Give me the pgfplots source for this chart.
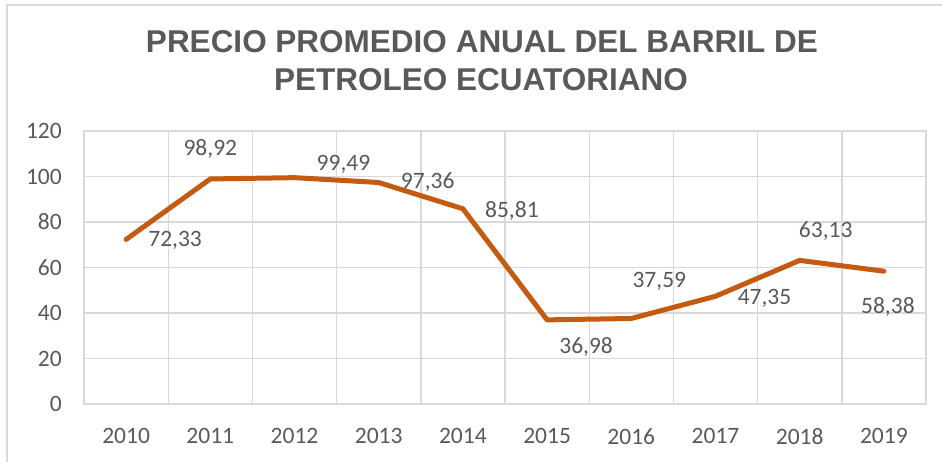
\documentclass[border=0pt]{standalone}
\usepackage{pgfplots}
\pgfplotsset{compat=1.18}
\usepackage{pgfplotstable}
\usepackage{fontspec}
\setmainfont{Carlito}
\newfontfamily\titlefont{Liberation Sans}
\definecolor{txt}{HTML}{595959}
\definecolor{gridc}{HTML}{D9D9D9}
\definecolor{linec}{HTML}{C55A11}

% x = year index, lab = data label, dx/dy = label offset in pt
\pgfplotstableread{
x y lab dx dy
0 72.33 72,33 49 -1
1 98.92 98,92 0 30
2 99.49 99,49 49 13
3 97.36 97,36 49 0
4 85.81 85,81 49 -2
5 36.98 36,98 39 -27
6 37.59 37,59 28 37
7 47.35 47,35 49 -2
8 63.13 63,13 26 29
9 58.38 58,38 4 -36
}\precio

\begin{document}
\begin{tikzpicture}[x=1pt,y=1pt]
  \useasboundingbox (0,0) rectangle (942,461);
  \draw[gridc, line width=1.3pt] (7,-5) -- (7,456) -- (950,456);
  \node[font=\titlefont\bfseries\fontsize{31.5}{38}\selectfont, text=txt, anchor=base]
    at (482,408) {PRECIO PROMEDIO ANUAL DEL BARRIL DE};
  \node[font=\titlefont\bfseries\fontsize{31.5}{38}\selectfont, text=txt, anchor=base]
    at (481,370) {PETROLEO ECUATORIANO};
  \begin{axis}[
    at={(84pt,57pt)}, anchor=south west,
    scale only axis,
    width=842pt, height=273pt,
    xmin=-0.5, xmax=9.5, ymin=0, ymax=120,
    xtick={0,...,9},
    xticklabels={2010,2011,2012,2013,2014,2015,2016,2017,2018,2019},
    minor xtick={-0.5,0.5,...,9.5},
    ytick={0,20,...,120},
    xminorgrids=true, ymajorgrids=true,
    grid style={gridc, line width=1.4pt},
    minor grid style={gridc, line width=1.4pt},
    axis line style={gridc, line width=1.4pt},
    major tick length=0pt, minor tick length=0pt,
    tick style={draw=none},
    /pgf/number format/assume math mode=true,
    ticklabel style={font=\fontsize{23.5}{28}\selectfont, text=txt, inner sep=0pt},
    yticklabel shift=22pt,
    xticklabel shift=24pt,
  ]
    \addplot[linec, line width=5pt, line join=round, line cap=round,
      nodes near coords, point meta=explicit symbolic,
      visualization depends on={\thisrow{dx} \as \dx},
      visualization depends on={\thisrow{dy} \as \dy},
      nodes near coords style={anchor=center, xshift=\dx pt, yshift=\dy pt,
        font=\fontsize{23.5}{28}\selectfont, text=txt, inner sep=0pt}]
      table[x=x, y=y, meta=lab] {\precio};
  \end{axis}
\end{tikzpicture}
\end{document}
